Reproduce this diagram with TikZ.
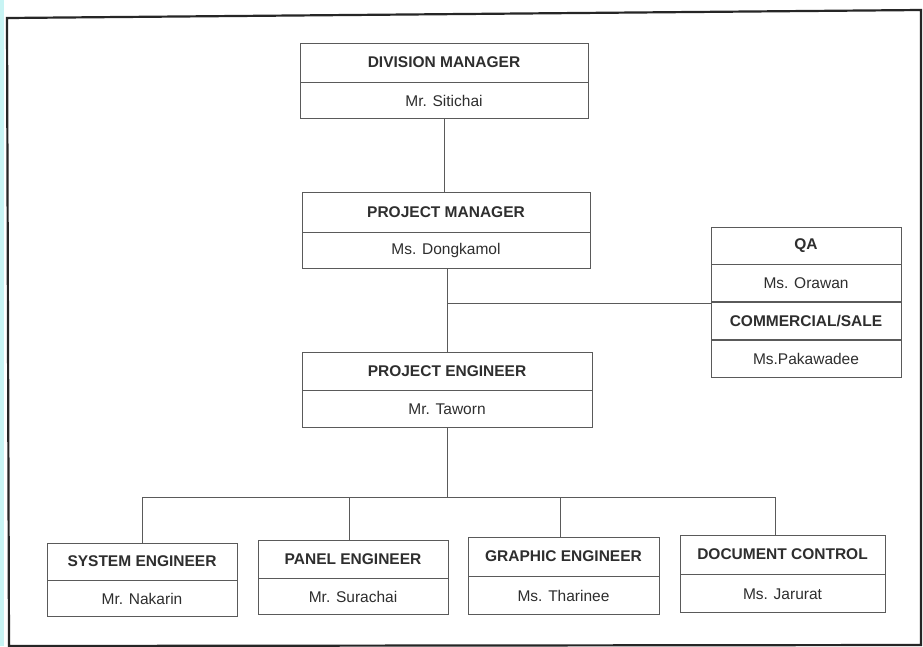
\documentclass[tikz,border=0pt]{standalone}
\usepackage{fontspec}
\setmainfont{Liberation Sans}
\usetikzlibrary{positioning}
\definecolor{ink}{HTML}{2E2E2E}
\definecolor{rule}{HTML}{5A5A5A}
\definecolor{edge}{HTML}{C8F4F4}
\tikzset{
  cell/.style={draw=rule, line width=0.9pt, rectangle, inner sep=0pt, text=ink,
    font=\fontsize{15.5}{17}\selectfont},
  titlecell/.style={cell, font=\fontsize{15.5}{17}\selectfont\bfseries},
  namecell/.style={cell, anchor=north},
  link/.style={draw=rule, line width=0.9pt},
  frame/.style={draw=black!85, line width=2.2pt}
}
\begin{document}
\begin{tikzpicture}[x=1pt,y=-1pt]
\useasboundingbox (0,0) rectangle (923,646);
\fill[white] (0,0) rectangle (923,646);
\fill[edge] (0,0) rectangle (4,646);
% outer frame
\draw[frame] (7,18) -- (921,10) -- (921,645) -- (9,646) -- cycle;

% division manager
\node[titlecell, minimum width=288, minimum height=39] (dmT) at (444,62.5) {DIVISION MANAGER};
\node[namecell, minimum width=288, minimum height=36] (dmN) at (dmT.south) {Mr. Sitichai};

% project manager
\node[titlecell, minimum width=288, minimum height=40] (pmT) at (446,212) {PROJECT MANAGER};
\node[namecell, minimum width=288, minimum height=36] (pmN) at (pmT.south) {Ms. Dongkamol};

% project engineer
\node[titlecell, minimum width=290, minimum height=38] (peT) at (447,371) {PROJECT ENGINEER};
\node[namecell, minimum width=290, minimum height=37] (peN) at (peT.south) {Mr. Taworn};

% QA and commercial stack
\node[titlecell, minimum width=190, minimum height=37] (qaT) at (806,245.5) {QA};
\node[namecell, minimum width=190, minimum height=37] (qaN) at (qaT.south) {Ms. Orawan};
\node[titlecell, anchor=north, minimum width=190, minimum height=37] (csT) at (qaN.south) {COMMERCIAL/SALE};
\node[namecell, minimum width=190, minimum height=37] (csN) at (csT.south) {Ms.Pakawadee};

% engineering staff
\node[titlecell, minimum width=190, minimum height=37] (seT) at (142,561.5) {SYSTEM ENGINEER};
\node[namecell, minimum width=190, minimum height=36] (seN) at (seT.south) {Mr. Nakarin};

\node[titlecell, minimum width=190, minimum height=38] (paT) at (353,559) {PANEL ENGINEER};
\node[namecell, minimum width=190, minimum height=36] (paN) at (paT.south) {Mr. Surachai};

\node[titlecell, minimum width=191, minimum height=39] (grT) at (563.5,556.5) {GRAPHIC ENGINEER};
\node[namecell, minimum width=191, minimum height=38] (grN) at (grT.south) {Ms. Tharinee};

\node[titlecell, minimum width=205, minimum height=39] (dcT) at (782.5,554.5) {DOCUMENT CONTROL};
\node[namecell, minimum width=205, minimum height=38] (dcN) at (dcT.south) {Ms. Jarurat};

% reporting lines
\draw[link] (dmN.south) -- (dmN.south |- pmT.north);
\draw[link] (pmN.south -| peT.north) -- (peT.north);
\coordinate (tap) at (447,303);
\draw[link] (tap) -- (tap -| qaN.west);

\coordinate (busSE) at (142,497);
\coordinate (busPA) at (349,497);
\coordinate (busGR) at (560,497);
\coordinate (busDC) at (775,497);
\draw[link] (peN.south) -- (peN.south |- busSE);
\draw[link] (busSE) -- (busDC);
\draw[link] (busSE) -- (busSE |- seT.north);
\draw[link] (busPA) -- (busPA |- paT.north);
\draw[link] (busGR) -- (busGR |- grT.north);
\draw[link] (busDC) -- (busDC |- dcT.north);
\end{tikzpicture}
\end{document}
